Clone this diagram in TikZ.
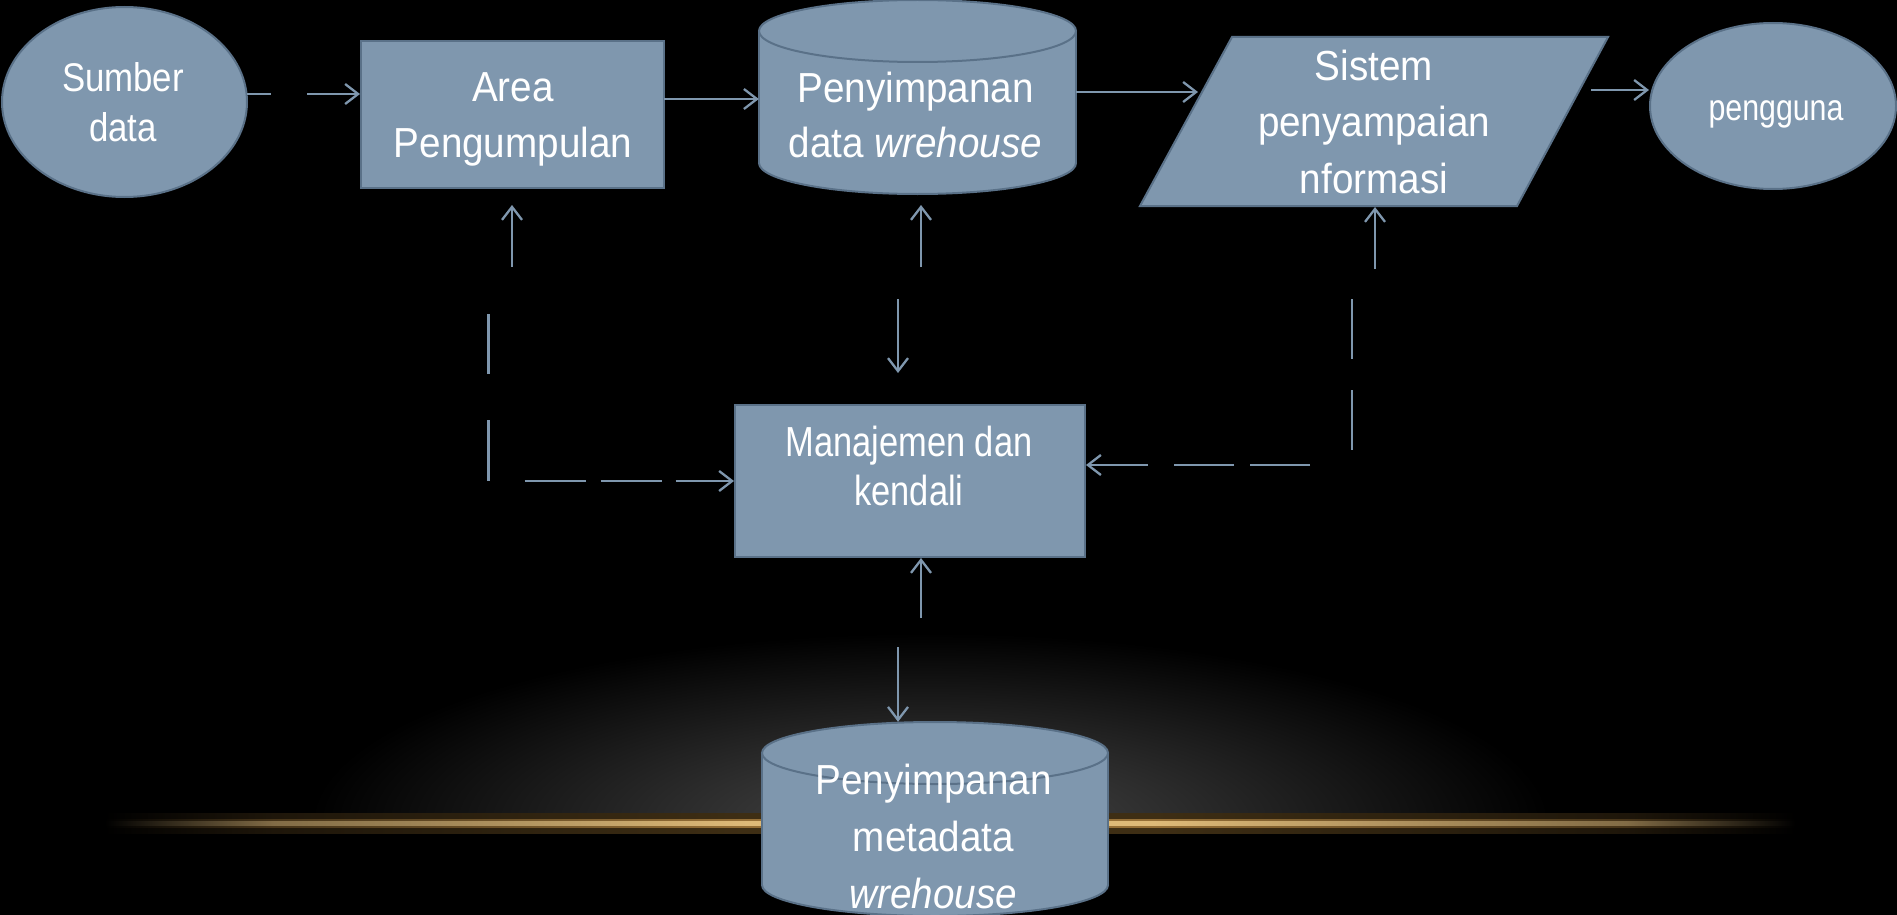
\documentclass[tikz,border=0pt]{standalone}
\usepackage{fontspec}
\setmainfont{Liberation Sans}
\newfontfamily\fwide[FakeStretch=0.92]{Liberation Sans}
\newfontfamily\fmid[FakeStretch=0.87]{Liberation Sans}
\newfontfamily\fnarrow[FakeStretch=0.82]{Liberation Sans}
\usetikzlibrary{arrows.meta,shapes.geometric}
\definecolor{shapefill}{RGB}{127,151,174}
\definecolor{shapeedge}{RGB}{90,113,136}
\definecolor{linec}{RGB}{127,151,174}
\definecolor{glowA}{RGB}{72,72,72}
\definecolor{glowB}{RGB}{44,44,44}
\definecolor{orA}{RGB}{62,46,20}
\definecolor{orAh}{RGB}{30,22,10}
\definecolor{orB}{RGB}{150,112,55}
\definecolor{orBh}{RGB}{70,52,25}
\definecolor{orC}{RGB}{222,186,120}
\definecolor{orCh}{RGB}{130,108,70}
\pgfdeclareradialshading{domeglow}{\pgfpoint{0bp}{0bp}}{color(0bp)=(glowA); color(10bp)=(glowB); color(25bp)=(black); color(50bp)=(black)}
\pgfdeclarehorizontalshading{hlA}{100bp}{color(0bp)=(black); color(25bp)=(black); color(30bp)=(orAh); color(44bp)=(orA); color(56bp)=(orA); color(70bp)=(orAh); color(75bp)=(black); color(100bp)=(black)}
\pgfdeclarehorizontalshading{hlB}{100bp}{color(0bp)=(black); color(25bp)=(black); color(30bp)=(orBh); color(44bp)=(orB); color(56bp)=(orB); color(70bp)=(orBh); color(75bp)=(black); color(100bp)=(black)}
\pgfdeclarehorizontalshading{hlC}{100bp}{color(0bp)=(black); color(25bp)=(black); color(30bp)=(orCh); color(44bp)=(orC); color(56bp)=(orC); color(70bp)=(orCh); color(75bp)=(black); color(100bp)=(black)}
\tikzset{
  shapestyle/.style={fill=shapefill, draw=shapeedge, line width=2pt},
  edgestyle/.style={draw=shapeedge, line width=2pt},
  conn/.style={draw=linec, line width=2.3pt},
  arr/.style={conn, -{Straight Barb[length=13pt,width=20pt]}},
  txt/.style={text=white, align=center, inner sep=0pt},
}
\begin{document}
\begin{tikzpicture}[x=1pt, y=-1pt]
\useasboundingbox (0,0) rectangle (1897,915);
\fill[black] (0,0) rectangle (1897,915);
% background glow
\begin{scope}
  \clip (0,0) rectangle (1897,823);
  \shade[shading=domeglow] (930,823) ellipse (620pt and 190pt);
\end{scope}
\shade[shading=hlA] (105,813) rectangle (1795,833);
\shade[shading=hlB] (105,819) rectangle (1795,827);
\shade[shading=hlC] (105,821) rectangle (1795,825);

% Sumber data
\node[shapestyle, ellipse, minimum width=245pt, minimum height=190pt, inner sep=0pt] (sumber) at (124.5,102) {};
\node[txt, font=\fmid\fontsize{40}{50}\selectfont] (sumberT) at (123,102.5) {Sumber\\data};

% Area Pengumpulan
\node[shapestyle, rectangle, minimum width=303pt, minimum height=147pt, inner sep=0pt] (area) at (512.5,114.5) {};
\node[txt, font=\fwide\fontsize{42}{56}\selectfont] (areaT) at (513,119.5) {Area\\Pengumpulan};

% Penyimpanan data wrehouse (cylinder)
\node[inner sep=0pt, minimum width=317pt, minimum height=194pt] (store) at (917.5,97) {};
\filldraw[shapestyle] (917.5,163) ellipse (158.5pt and 31pt);
\fill[shapefill] (759,31) rectangle (1076,163);
\draw[edgestyle] (759,31) -- (759,163) (1076,31) -- (1076,163);
\filldraw[shapestyle] (917.5,31) ellipse (158.5pt and 31pt);
\node[txt, font=\fwide\fontsize{42}{55}\selectfont] (storeT) at (915.5,114.5) {Penyimpanan\\data \textit{wrehouse}};

% Sistem penyampaian informasi (parallelogram)
\coordinate (p1) at (1232,37);
\coordinate (p2) at (1608,37);
\coordinate (p3) at (1517,206);
\coordinate (p4) at (1140,206);
\filldraw[shapestyle, line join=miter] (p1) -- (p2) -- (p3) -- (p4) -- cycle;
\node[txt, font=\fwide\fontsize{42}{56.5}\selectfont] (paraT) at (1374,121.5) {Sistem\\penyampaian\\nformasi};

% pengguna
\node[shapestyle, ellipse, minimum width=246pt, minimum height=166pt, inner sep=0pt] (user) at (1773,106) {};
\node[txt, font=\fnarrow\fontsize{37}{44}\selectfont] (userT) at (1776,114) {pengguna};

% Manajemen dan kendali
\node[shapestyle, rectangle, minimum width=350pt, minimum height=152pt, inner sep=0pt] (mgmt) at (910,481) {};
\node[txt, font=\fnarrow\fontsize{42}{49}\selectfont] (mgmtT) at (909,465.5) {Manajemen dan\\kendali};

% Penyimpanan metadata wrehouse (cylinder)
\node[inner sep=0pt, minimum width=346pt, minimum height=194pt] (meta) at (935,819) {};
\filldraw[shapestyle] (935,885) ellipse (173pt and 31pt);
\fill[shapefill] (762,753) rectangle (1108,885);
\draw[edgestyle] (762,753) -- (762,885) (1108,753) -- (1108,885);
\filldraw[shapestyle] (935,753) ellipse (173pt and 31pt);
\node[txt, font=\fwide\fontsize{42}{57}\selectfont] (metaT) at (933.5,836) {Penyimpanan\\metadata\\\textit{wrehouse}};

% ---- connectors ----
\coordinate (s1) at (247,94);
\draw[arr, dash pattern=on 24pt off 36pt on 60pt off 20pt] (s1) -- (s1 -| area.west);

\coordinate (a2) at (664,99);
\draw[arr] (a2) -- (a2 -| store.west);

\coordinate (c3) at (1076,92);
\coordinate (c3e) at (1198,92);
\draw[arr] (c3) -- (c3e);

\coordinate (u4) at (1591,90);
\draw[arr] (u4) -- (u4 -| user.west);

% left: Manajemen <-> Area
\coordinate (la) at (512,267);
\coordinate (lae) at (512,205);
\draw[arr] (la) -- (lae);
\coordinate (lv) at (488.5,314);
\coordinate (lc) at (488.5,481);
\draw[arr, dash pattern=on 60pt off 46pt on 61pt off 36pt on 61pt off 15pt on 61pt off 14pt on 70pt off 20pt] (lv) -- (lc) -- (mgmt.west);

% middle: store <-> Manajemen
\coordinate (ma) at (921,267);
\coordinate (mae) at (921,205);
\draw[arr] (ma) -- (mae);
\coordinate (mb) at (898,299);
\coordinate (mbe) at (898,373);
\draw[arr] (mb) -- (mbe);

% right: Manajemen <-> Sistem
\coordinate (ra) at (1375,269);
\coordinate (rae) at (1375,207);
\draw[arr] (ra) -- (rae);
\coordinate (rv) at (1352,299);
\coordinate (rc) at (1352,465);
\draw[arr, dash pattern=on 60pt off 31pt on 60pt off 57pt on 60pt off 16pt on 60pt off 26pt on 70pt off 20pt] (rv) -- (rc) -- (rc -| mgmt.east);

% bottom: Manajemen <-> metadata
\coordinate (ba) at (921,618);
\draw[arr] (ba) -- (ba |- mgmt.south);
\coordinate (bb) at (898,647);
\draw[arr] (bb) -- (bb |- meta.north);
\end{tikzpicture}
\end{document}
